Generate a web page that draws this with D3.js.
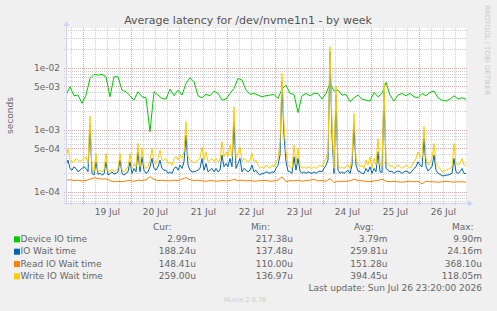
<html>
<meta charset="utf-8">
<title>Average latency for /dev/nvme1n1 - by week</title>
<body style="margin:0;background:#F0F0F0">
<div id="chartContainer"></div>
<script src="https://cdn.jsdelivr.net/npm/d3@7"></script>
<script type="text/javascript">
// time range of the week graph (last update Sun Jul 26 23:20:00 2026)
var startTime = Date.UTC(2026, 6, 18, 15, 20);
var endTime = Date.UTC(2026, 6, 26, 23, 20);
var yMin = 6.6e-5, yMax = 4.37e-2;

var yTickValues = [1e-4, 5e-4, 1e-3, 5e-3, 1e-2];
var yTickLabels = ["1e-04", "5e-04", "1e-03", "5e-03", "1e-02"];
var xTickLabels = ["19 Jul", "20 Jul", "21 Jul", "22 Jul", "23 Jul", "24 Jul", "25 Jul", "26 Jul"];

var seriesNames = ["Device IO time", "IO Wait time", "Read IO Wait time", "Write IO Wait time"];
var curVals = ["2.99m", "188.24u", "148.41u", "259.00u"];
var minVals = ["217.38u", "137.48u", "110.00u", "136.97u"];
var avgVals = ["3.79m", "259.81u", "151.28u", "394.45u"];
var maxVals = ["9.90m", "24.16m", "368.10u", "118.05m"];

// seconds, one value every 2 hours
var deviceIO = [
  3.62e-3, 4.94e-3, 3.54e-3, 3.62e-3, 2.66e-3, 3.62e-3, 6.73e-3, 7.81e-3, 7.61e-3, 7.81e-3,
  7.16e-3, 3.40e-3, 7.16e-3, 7.16e-3, 4.36e-3, 4.10e-3, 3.54e-3, 3.01e-3, 4.10e-3, 3.40e-3,
  3.28e-3, 9.3e-4, 4.10e-3, 3.62e-3, 3.20e-3, 3.12e-3, 4.53e-3, 3.54e-3, 4.36e-3, 3.62e-3,
  5.59e-3, 6.90e-3, 5.94e-3, 3.54e-3, 3.28e-3, 3.72e-3, 3.54e-3, 4.20e-3, 3.85e-3, 3.01e-3,
  3.12e-3, 3.85e-3, 4.64e-3, 6.73e-3, 6.32e-3, 4.36e-3, 3.72e-3, 3.85e-3, 3.62e-3, 3.40e-3,
  3.54e-3, 3.62e-3, 3.72e-3, 3.20e-3, 4.53e-3, 5.25e-3, 3.85e-3, 3.72e-3, 1.90e-3, 3.54e-3,
  3.85e-3, 3.54e-3, 3.85e-3, 3.85e-3, 3.12e-3, 3.85e-3, 5.59e-3, 4.20e-3, 4.36e-3, 3.62e-3,
  3.72e-3, 2.83e-3, 3.28e-3, 3.62e-3, 3.12e-3, 3.01e-3, 2.90e-3, 4.00e-3, 3.40e-3, 3.85e-3,
  5.80e-3, 3.62e-3, 2.90e-3, 3.62e-3, 3.85e-3, 3.54e-3, 3.85e-3, 3.40e-3, 3.28e-3, 3.85e-3,
  3.54e-3, 4.00e-3, 4.20e-3, 3.28e-3, 3.01e-3, 2.90e-3, 3.12e-3, 3.54e-3, 3.12e-3, 3.28e-3,
  3.12e-3
];

// seconds, one value every hour
var ioWait = [
  2.69e-4, 3.24e-4, 2.38e-4, 2.23e-4, 2.53e-4, 2.38e-4, 2.10e-4, 2.23e-4, 2.38e-4, 2.53e-4,
  2.38e-4, 2.10e-4, 1.19e-3, 1.98e-4, 1.86e-4, 3.05e-4, 1.92e-4, 1.98e-4, 1.86e-4, 1.94e-4,
  3.05e-4, 1.86e-4, 1.96e-4, 2.10e-4, 1.92e-4, 1.98e-4, 2.10e-4, 3.24e-4, 1.98e-4, 1.86e-4,
  1.98e-4, 2.10e-4, 3.05e-4, 1.98e-4, 2.38e-4, 2.10e-4, 4.4e-4, 2.10e-4, 3.67e-4, 2.23e-4,
  1.98e-4, 2.10e-4, 2.53e-4, 3.45e-4, 2.38e-4, 2.23e-4, 2.53e-4, 3.24e-4, 2.38e-4, 2.23e-4,
  2.23e-4, 1.98e-4, 2.10e-4, 1.98e-4, 2.38e-4, 2.53e-4, 2.23e-4, 2.69e-4, 2.38e-4, 3.05e-4,
  8.2e-4, 2.69e-4, 2.23e-4, 2.10e-4, 2.10e-4, 2.16e-4, 2.23e-4, 2.38e-4, 3.45e-4, 2.23e-4,
  2.86e-4, 2.10e-4, 2.23e-4, 2.38e-4, 2.10e-4, 2.38e-4, 2.10e-4, 2.23e-4, 3.9e-4, 2.53e-4,
  2.86e-4, 2.53e-4, 3.45e-4, 2.53e-4, 1.35e-3, 2.38e-4, 2.86e-4, 3.45e-4, 2.10e-4, 2.38e-4,
  2.23e-4, 2.10e-4, 2.23e-4, 2.69e-4, 2.10e-4, 2.23e-4, 1.98e-4, 1.86e-4, 1.98e-4, 1.98e-4,
  2.10e-4, 2.05e-4, 1.98e-4, 2.10e-4, 2.05e-4, 2.38e-4, 2.69e-4, 3.9e-4, 5.94e-3, 8.2e-4,
  3.05e-4, 2.16e-4, 2.10e-4, 1.98e-4, 3.67e-4, 2.23e-4, 3.45e-4, 2.16e-4, 1.98e-4, 2.10e-4,
  1.98e-4, 2.10e-4, 2.03e-4, 1.98e-4, 2.10e-4, 1.98e-4, 2.10e-4, 2.16e-4, 2.10e-4, 2.38e-4,
  2.69e-4, 3.24e-4, 1.81e-2, 8.2e-4, 1.98e-4, 3.62e-3, 2.23e-4, 1.98e-4, 2.10e-4, 1.98e-4,
  2.10e-4, 2.23e-4, 1.98e-4, 2.69e-4, 1.19e-3, 2.69e-4, 2.16e-4, 2.10e-4, 1.98e-4, 1.98e-4,
  2.38e-4, 2.10e-4, 2.53e-4, 1.98e-4, 2.38e-4, 2.10e-4, 4.4e-4, 2.10e-4, 2.05e-4, 4.10e-3,
  2.38e-4, 2.23e-4, 2.10e-4, 2.16e-4, 1.98e-4, 2.10e-4, 2.16e-4, 2.10e-4, 1.98e-4, 2.10e-4,
  2.16e-4, 2.10e-4, 1.98e-4, 2.16e-4, 2.38e-4, 2.53e-4, 3.05e-4, 2.69e-4, 2.53e-4, 7.2e-4,
  2.53e-4, 2.16e-4, 2.38e-4, 2.53e-4, 3.9e-4, 2.23e-4, 1.98e-4, 1.92e-4, 1.81e-4, 1.81e-4,
  1.86e-4, 1.86e-4, 1.92e-4, 1.98e-4, 3.45e-4, 2.10e-4, 1.98e-4, 2.10e-4, 2.38e-4, 1.98e-4,
  1.98e-4
];

// seconds, one value every 2 hours
var readWait = [
  1.54e-4, 1.56e-4, 1.52e-4, 1.54e-4, 1.50e-4, 1.52e-4, 1.60e-4, 1.68e-4, 1.64e-4, 1.60e-4,
  1.62e-4, 1.52e-4, 1.45e-4, 1.48e-4, 1.45e-4, 1.50e-4, 1.52e-4, 1.48e-4, 1.54e-4, 1.52e-4,
  1.56e-4, 1.75e-4, 1.58e-4, 1.52e-4, 1.54e-4, 1.52e-4, 1.50e-4, 1.54e-4, 1.52e-4, 1.60e-4,
  1.70e-4, 1.56e-4, 1.52e-4, 1.54e-4, 1.50e-4, 1.48e-4, 1.52e-4, 1.50e-4, 1.48e-4, 1.52e-4,
  1.50e-4, 1.52e-4, 1.58e-4, 1.52e-4, 1.54e-4, 1.50e-4, 1.52e-4, 1.48e-4, 1.50e-4, 1.52e-4,
  1.52e-4, 1.48e-4, 1.50e-4, 1.54e-4, 1.75e-4, 1.45e-4, 1.52e-4, 1.50e-4, 1.54e-4, 1.48e-4,
  1.52e-4, 1.54e-4, 1.58e-4, 1.50e-4, 1.52e-4, 1.48e-4, 1.64e-4, 1.41e-4, 1.48e-4, 1.47e-4,
  1.48e-4, 1.50e-4, 1.60e-4, 1.52e-4, 1.50e-4, 1.48e-4, 1.45e-4, 1.50e-4, 1.52e-4, 1.60e-4,
  1.48e-4, 1.45e-4, 1.47e-4, 1.45e-4, 1.43e-4, 1.45e-4, 1.48e-4, 1.45e-4, 1.47e-4, 1.35e-4,
  1.48e-4, 1.45e-4, 1.45e-4, 1.43e-4, 1.45e-4, 1.47e-4, 1.45e-4, 1.43e-4, 1.45e-4, 1.45e-4,
  1.43e-4
];

// seconds, one value every hour
var writeWait = [
  3.45e-4, 5.0e-4, 3.24e-4, 3.05e-4, 3.05e-4, 3.45e-4, 3.24e-4, 3.05e-4, 3.24e-4, 3.45e-4,
  3.67e-4, 2.86e-4, 1.68e-3, 2.38e-4, 2.10e-4, 4.15e-4, 2.10e-4, 2.23e-4, 2.10e-4, 2.23e-4,
  4.15e-4, 2.10e-4, 2.16e-4, 2.32e-4, 2.10e-4, 2.21e-4, 2.38e-4, 4.15e-4, 2.23e-4, 2.10e-4,
  2.32e-4, 2.53e-4, 4.15e-4, 2.38e-4, 2.86e-4, 2.53e-4, 6.0e-4, 2.53e-4, 5.0e-4, 2.69e-4,
  2.38e-4, 2.53e-4, 3.24e-4, 5.0e-4, 3.05e-4, 2.86e-4, 3.45e-4, 4.7e-4, 3.24e-4, 3.24e-4,
  3.45e-4, 2.86e-4, 3.05e-4, 2.69e-4, 3.45e-4, 3.67e-4, 3.24e-4, 3.9e-4, 3.45e-4, 4.4e-4,
  1.35e-3, 3.67e-4, 3.24e-4, 3.05e-4, 2.97e-4, 3.05e-4, 3.24e-4, 3.45e-4, 5.3e-4, 3.24e-4,
  4.4e-4, 3.05e-4, 3.24e-4, 3.45e-4, 3.05e-4, 3.45e-4, 3.05e-4, 3.24e-4, 6.4e-4, 3.67e-4,
  4.4e-4, 3.67e-4, 5.7e-4, 3.67e-4, 2.35e-3, 3.45e-4, 4.15e-4, 5.3e-4, 3.05e-4, 3.45e-4,
  3.24e-4, 3.05e-4, 3.24e-4, 4.15e-4, 3.05e-4, 3.24e-4, 2.69e-4, 2.38e-4, 2.53e-4, 2.38e-4,
  2.69e-4, 2.53e-4, 2.38e-4, 2.69e-4, 2.53e-4, 3.05e-4, 3.45e-4, 6.4e-4, 8.1e-3, 1.19e-3,
  4.4e-4, 2.69e-4, 2.53e-4, 2.38e-4, 5.7e-4, 2.86e-4, 5.0e-4, 2.69e-4, 2.38e-4, 2.53e-4,
  2.38e-4, 2.53e-4, 2.44e-4, 2.38e-4, 2.53e-4, 2.38e-4, 2.53e-4, 2.69e-4, 2.53e-4, 3.05e-4,
  3.45e-4, 4.4e-4, 2.18e-2, 1.19e-3, 2.38e-4, 5.06e-3, 2.69e-4, 2.38e-4, 2.53e-4, 2.38e-4,
  2.53e-4, 2.69e-4, 2.38e-4, 3.45e-4, 1.83e-3, 3.45e-4, 2.69e-4, 2.53e-4, 2.69e-4, 2.38e-4,
  3.24e-4, 2.69e-4, 3.67e-4, 2.38e-4, 3.45e-4, 2.69e-4, 7.2e-4, 2.69e-4, 2.53e-4, 5.59e-3,
  3.05e-4, 2.86e-4, 2.53e-4, 2.69e-4, 2.38e-4, 2.53e-4, 2.69e-4, 2.53e-4, 2.38e-4, 2.53e-4,
  2.69e-4, 2.53e-4, 2.38e-4, 2.69e-4, 3.05e-4, 3.45e-4, 4.4e-4, 3.67e-4, 3.45e-4, 1.12e-3,
  3.45e-4, 2.69e-4, 3.05e-4, 3.45e-4, 6.0e-4, 2.86e-4, 2.53e-4, 2.38e-4, 2.10e-4, 2.16e-4,
  2.23e-4, 2.32e-4, 2.38e-4, 2.53e-4, 6.0e-4, 2.86e-4, 2.69e-4, 2.86e-4, 3.45e-4, 2.69e-4,
  2.69e-4
];

var HOUR = 3600 * 1000;
var series = [
  { name: seriesNames[0], values: deviceIO, step: 2 * HOUR, color: "#00CC00" },
  { name: seriesNames[1], values: ioWait, step: HOUR, color: "#0066B3" },
  { name: seriesNames[2], values: readWait, step: 2 * HOUR, color: "#FF8000" },
  { name: seriesNames[3], values: writeWait, step: HOUR, color: "#FFCC00" }
];

var plotLeft = 66, plotRight = 466, plotTop = 28, plotBottom = 203;

var svg = d3.select("#chartContainer").append("svg")
  .attr("width", 497)
  .attr("height", 311)
  .style("display", "block")
  .style("background", "#F0F0F0")
  .style("font-family", "DejaVu Sans");

var x = d3.scaleUtc().domain([startTime, endTime]).range([plotLeft, plotRight]);
var y = d3.scaleLog().domain([yMin, yMax]).range([plotBottom, plotTop]);

svg.append("rect")
  .attr("x", plotLeft).attr("y", plotTop)
  .attr("width", plotRight - plotLeft).attr("height", plotBottom - plotTop)
  .style("fill", "#FFFFFF");

// grid, minor first then major
var minorColor = "#CFCFCF", majorColor = "#E4A3A3";

function hline(v, color) {
  var py = Math.round(y(v)) + 0.5;
  svg.append("line")
    .attr("x1", plotLeft - 2).attr("x2", plotRight + 2)
    .attr("y1", py).attr("y2", py)
    .style("stroke", color)
    .style("stroke-dasharray", "1,1")
    .style("shape-rendering", "crispEdges");
}
function vline(t, color) {
  var px = Math.round(x(t)) + 0.5;
  svg.append("line")
    .attr("x1", px).attr("x2", px)
    .attr("y1", plotTop).attr("y2", plotBottom + 2)
    .style("stroke", color)
    .style("stroke-dasharray", "1,1")
    .style("shape-rendering", "crispEdges");
}

var sixHours = d3.utcHour.every(6).range(new Date(startTime), new Date(endTime));
sixHours.filter(function (t) { return t.getUTCHours() !== 0; }).forEach(function (t) { vline(t, minorColor); });

var logLines = [];
for (var e = -5; e <= -1; e++) {
  for (var m = 1; m <= 9; m++) {
    var v = m * Math.pow(10, e);
    if (v >= yMin && v <= yMax) logLines.push({ v: v, major: m === 1 || m === 5 });
  }
}
logLines.filter(function (d) { return !d.major; }).forEach(function (d) { hline(d.v, minorColor); });
logLines.filter(function (d) { return d.major; }).forEach(function (d) { hline(d.v, majorColor); });
sixHours.filter(function (t) { return t.getUTCHours() === 0; }).forEach(function (t) { vline(t, majorColor); });

// data lines
svg.append("clipPath").attr("id", "plotClip")
  .append("rect")
  .attr("x", plotLeft).attr("y", plotTop)
  .attr("width", plotRight - plotLeft).attr("height", plotBottom - plotTop);

series.forEach(function (s) {
  var line = d3.line()
    .x(function (d, i) { return x(startTime + i * s.step); })
    .y(function (d) { return y(d); });
  svg.append("path")
    .datum(s.values)
    .attr("clip-path", "url(#plotClip)")
    .attr("d", line)
    .style("fill", "none")
    .style("stroke", s.color)
    .style("stroke-width", 1);
});

// axes with arrows
var axisColor = "#CCD3F5";
svg.append("line")
  .attr("x1", plotLeft - 2).attr("x2", plotRight + 3)
  .attr("y1", plotBottom + 0.5).attr("y2", plotBottom + 0.5)
  .style("stroke", axisColor);
svg.append("line")
  .attr("x1", plotLeft + 0.5).attr("x2", plotLeft + 0.5)
  .attr("y1", plotBottom + 2).attr("y2", plotTop - 3)
  .style("stroke", axisColor);
svg.append("path")
  .attr("d", "M" + (plotRight + 2) + "," + (plotBottom - 2.5) + "L" + (plotRight + 7) + "," + (plotBottom + 0.5) + "L" + (plotRight + 2) + "," + (plotBottom + 3.5) + "Z")
  .style("fill", axisColor);
svg.append("path")
  .attr("d", "M" + (plotLeft - 2.5) + "," + (plotTop - 2) + "L" + (plotLeft + 0.5) + "," + (plotTop - 7) + "L" + (plotLeft + 3.5) + "," + (plotTop - 2) + "Z")
  .style("fill", axisColor);

// tick labels
var textColor = "#666666";
yTickValues.forEach(function (v, i) {
  svg.append("text")
    .attr("x", plotLeft - 6)
    .attr("y", y(v) + 3.3)
    .style("text-anchor", "end")
    .style("font-size", "9px")
    .style("fill", textColor)
    .text(yTickLabels[i]);
});
xTickLabels.forEach(function (label, i) {
  var noon = Date.UTC(2026, 6, 19 + i, 12);
  svg.append("text")
    .attr("x", x(noon))
    .attr("y", 215)
    .style("text-anchor", "middle")
    .style("font-size", "9px")
    .style("fill", textColor)
    .text(label);
});

// titles
svg.append("text")
  .attr("x", 248).attr("y", 24)
  .style("text-anchor", "middle")
  .style("font-size", "11px")
  .style("fill", "#555555")
  .text("Average latency for /dev/nvme1n1 - by week");

svg.append("text")
  .attr("transform", "translate(13," + ((plotTop + plotBottom) / 2) + ") rotate(-90)")
  .style("text-anchor", "middle")
  .style("font-size", "9px")
  .style("fill", textColor)
  .text("seconds");

svg.append("text")
  .attr("transform", "translate(485,5) rotate(90)")
  .style("text-anchor", "start")
  .style("font-size", "7px")
  .style("fill", "#C8C8C8")
  .text("RRDTOOL / TOBI OETIKER");

// legend
var headerY = 229.5, rowGap = 12.35;
[["Cur:", 153], ["Min:", 251], ["Avg:", 354], ["Max:", 452]].forEach(function (h) {
  svg.append("text")
    .attr("x", h[1]).attr("y", headerY)
    .style("font-size", "9px")
    .style("fill", textColor)
    .text(h[0]);
});

var columns = [[curVals, 196], [minVals, 293], [avgVals, 387.5], [maxVals, 482]];
series.forEach(function (s, i) {
  var by = headerY + rowGap * (i + 1);
  svg.append("rect")
    .attr("x", 14).attr("y", by - 5.5)
    .attr("width", 6).attr("height", 6)
    .style("fill", s.color);
  svg.append("text")
    .attr("x", 20.5).attr("y", by)
    .style("font-size", "9px")
    .style("fill", textColor)
    .text(s.name);
  columns.forEach(function (c) {
    svg.append("text")
      .attr("x", c[1]).attr("y", by)
      .style("text-anchor", "end")
      .style("font-size", "9px")
      .style("fill", textColor)
      .text(c[0][i]);
  });
});

svg.append("text")
  .attr("x", 482).attr("y", headerY + rowGap * 5)
  .style("text-anchor", "end")
  .style("font-size", "9px")
  .style("fill", textColor)
  .text("Last update: Sun Jul 26 23:20:00 2026");

svg.append("text")
  .attr("x", 245).attr("y", 301.5)
  .style("text-anchor", "middle")
  .style("font-size", "6.5px")
  .style("fill", "#CCCCCC")
  .text("Munin 2.0.76");
</script>
</body>
</html>
